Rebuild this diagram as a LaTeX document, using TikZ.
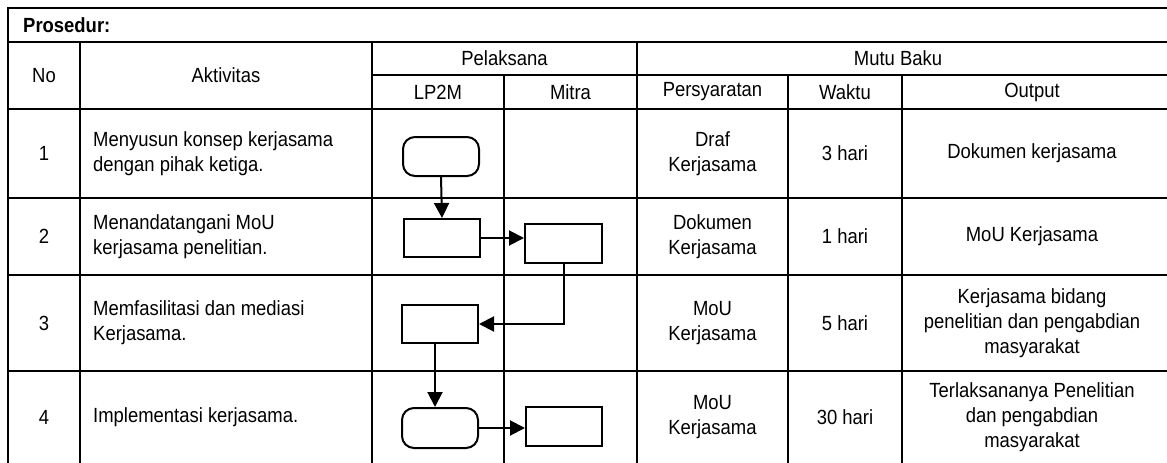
\documentclass[tikz,border=0pt]{standalone}
\usepackage{fontspec}
\setmainfont[FakeStretch=0.9]{Liberation Sans}
\usetikzlibrary{arrows.meta}
\begin{document}
\begin{tikzpicture}[x=1pt,y=-1pt,
  grid/.style={line width=2pt},
  cell/.style={inner sep=0pt,align=center,font=\fontsize{20.5}{25}\selectfont},
  lcell/.style={cell,anchor=west,align=left},
  procbox/.style={draw,line width=2pt,minimum width=76pt,minimum height=38pt,inner sep=0pt},
  termbox/.style={procbox,rounded corners=12pt},
  flow/.style={line width=2pt,-{Triangle[length=15pt,width=15pt]}}
]
\useasboundingbox (0,0) rectangle (1167,463);

% table rules
\draw[grid] (8,463) -- (8,8) -- (1170,8);
\draw[grid] (8,42) -- (1170,42);
\draw[grid] (372,75) -- (1170,75);
\draw[grid] (8,109) -- (1170,109);
\draw[grid] (8,198) -- (1170,198);
\draw[grid] (8,275) -- (1170,275);
\draw[grid] (8,371) -- (1170,371);
\draw[grid] (80,42) -- (80,463);
\draw[grid] (372,42) -- (372,463);
\draw[grid] (504,75) -- (504,463);
\draw[grid] (637,42) -- (637,463);
\draw[grid] (788,75) -- (788,463);
\draw[grid] (902,75) -- (902,463);

% header
\node[lcell,font=\fontsize{20.5}{25}\selectfont\bfseries] (hprosedur) at (23,25) {Prosedur:};
\node[cell] (hno) at (44,75.5) {No};
\node[cell] (hakt) at (226,75.5) {Aktivitas};
\node[cell] (hpel) at (504.5,58.5) {Pelaksana};
\node[cell] (hmutu) at (898,58.5) {Mutu Baku};
\node[cell] (hlp) at (438,92) {LP2M};
\node[cell] (hmitra) at (570.5,92) {Mitra};
\node[cell] (hsyarat) at (712.5,92) {Persyaratan};
\node[cell] (hwaktu) at (845,92) {Waktu};
\node[cell] (hout) at (1032,92) {Output};

% row 1
\node[cell] (n1) at (44,153.5) {1};
\node[lcell] (a1) at (93,153.5) {Menyusun konsep kerjasama\\dengan pihak ketiga.};
\node[cell] (s1) at (712.5,153.5) {Draf\\Kerjasama};
\node[cell] (w1) at (845,153.5) {3 hari};
\node[cell] (o1) at (1032,153.5) {Dokumen kerjasama};

% row 2
\node[cell] (n2) at (44,236.5) {2};
\node[lcell] (a2) at (93,236.5) {Menandatangani MoU\\kerjasama penelitian.};
\node[cell] (s2) at (712.5,236.5) {Dokumen\\Kerjasama};
\node[cell] (w2) at (845,236.5) {1 hari};
\node[cell] (o2) at (1032,236.5) {MoU Kerjasama};

% row 3
\node[cell] (n3) at (44,323) {3};
\node[lcell] (a3) at (93,323) {Memfasilitasi dan mediasi\\Kerjasama.};
\node[cell] (s3) at (712.5,323) {MoU\\Kerjasama};
\node[cell] (w3) at (845,323) {5 hari};
\node[cell] (o3) at (1032,323) {Kerjasama bidang\\penelitian dan pengabdian\\masyarakat};

% row 4
\node[cell] (n4) at (44,417) {4};
\node[lcell] (a4) at (93,417) {Implementasi kerjasama.};
\node[cell] (s4) at (712.5,417) {MoU\\Kerjasama};
\node[cell] (w4) at (845,417) {30 hari};
\node[cell] (o4) at (1032,417) {Terlaksananya Penelitian\\dan pengabdian\\masyarakat};

% flow shapes
\node[termbox,minimum height=39pt] (t1) at (441,156.5) {};
\node[procbox] (b2) at (442,238) {};
\node[procbox,minimum width=77pt,minimum height=39pt] (m2) at (563.5,243.5) {};
\node[procbox] (b3) at (440,324) {};
\node[termbox,minimum height=40pt] (t4) at (440,428) {};
\node[procbox,minimum height=39pt] (m4) at (564,426.5) {};

% flow connectors
\draw[flow] (t1.south) -- (b2.north);
\draw[flow] (b2.east) -- (b2.east -| m2.west);
\draw[flow] (m2.south) |- (b3.east);
\draw[flow] ([xshift=-5pt]b3.south) -- ([xshift=-5pt]b3.south |- t4.north);
\draw[flow] (t4.east) -- (t4.east -| m4.west);
\end{tikzpicture}
\end{document}
